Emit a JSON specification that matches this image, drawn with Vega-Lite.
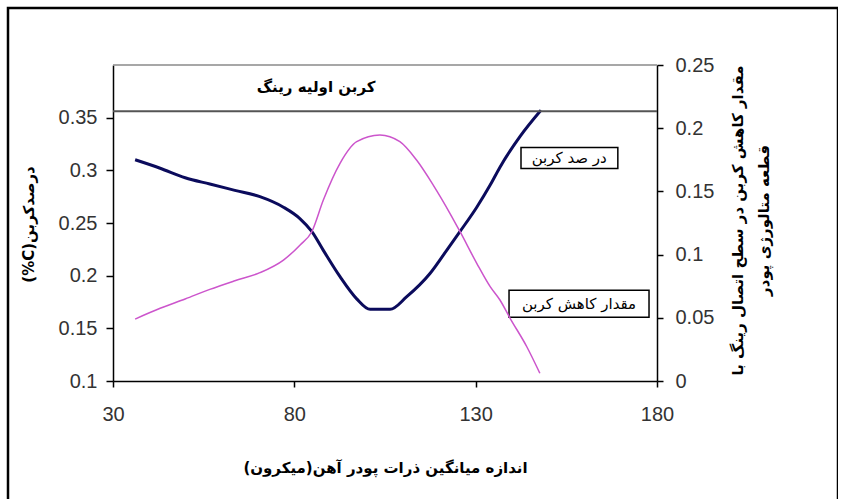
{
  "$schema": "https://vega.github.io/schema/vega-lite/v6.json",
  "width": 830,
  "height": 500,
  "autosize": {"type": "none"},
  "padding": {"left": 8, "top": 8, "right": 0, "bottom": 0},
  "background": "white",
  "config": {
    "view": {"stroke": "black", "strokeWidth": 2.5},
    "axis": {"grid": false, "labelFont": "Liberation Sans", "labelFontSize": 20, "labelColor": "#333333", "domainColor": "black", "domainWidth": 1.5, "tickColor": "black", "tickWidth": 1.5, "titleFont": "DejaVu Sans", "titleFontWeight": "bold", "titleFontSize": 15, "titleColor": "black", "labelOverlap": false, "labelFlush": false}
  },
  "datasets": {
    "carbon": [
      {"size": 36.1, "carbon_pct": 0.310},
      {"size": 43.0, "carbon_pct": 0.302},
      {"size": 49.9, "carbon_pct": 0.293},
      {"size": 56.7, "carbon_pct": 0.287},
      {"size": 63.6, "carbon_pct": 0.281},
      {"size": 70.5, "carbon_pct": 0.275},
      {"size": 77.0, "carbon_pct": 0.265},
      {"size": 81.6, "carbon_pct": 0.254},
      {"size": 84.8, "carbon_pct": 0.242},
      {"size": 88.0, "carbon_pct": 0.224},
      {"size": 92.6, "carbon_pct": 0.199},
      {"size": 97.2, "carbon_pct": 0.178},
      {"size": 100.9, "carbon_pct": 0.168},
      {"size": 106.4, "carbon_pct": 0.168},
      {"size": 111.0, "carbon_pct": 0.180},
      {"size": 117.4, "carbon_pct": 0.202},
      {"size": 122.0, "carbon_pct": 0.224},
      {"size": 125.7, "carbon_pct": 0.242},
      {"size": 130.3, "carbon_pct": 0.265},
      {"size": 134.0, "carbon_pct": 0.286},
      {"size": 136.7, "carbon_pct": 0.303},
      {"size": 142.2, "carbon_pct": 0.332},
      {"size": 148.0, "carbon_pct": 0.357}
    ],
    "reduction": [
      {"size": 36.1, "reduction": 0.049},
      {"size": 43.0, "reduction": 0.0575},
      {"size": 49.9, "reduction": 0.0649},
      {"size": 56.7, "reduction": 0.0725},
      {"size": 63.6, "reduction": 0.0793},
      {"size": 70.5, "reduction": 0.0857},
      {"size": 77.0, "reduction": 0.0957},
      {"size": 81.6, "reduction": 0.1076},
      {"size": 84.8, "reduction": 0.1181},
      {"size": 88.0, "reduction": 0.1432},
      {"size": 92.6, "reduction": 0.1722},
      {"size": 97.2, "reduction": 0.1893},
      {"size": 103.6, "reduction": 0.1946},
      {"size": 109.1, "reduction": 0.1893},
      {"size": 113.7, "reduction": 0.1748},
      {"size": 118.3, "reduction": 0.155},
      {"size": 122.9, "reduction": 0.1327},
      {"size": 125.7, "reduction": 0.1181},
      {"size": 130.3, "reduction": 0.0931},
      {"size": 134.0, "reduction": 0.0746},
      {"size": 136.7, "reduction": 0.0641},
      {"size": 139.5, "reduction": 0.0496},
      {"size": 144.1, "reduction": 0.0271},
      {"size": 147.7, "reduction": 0.0061}
    ],
    "initial": [{"label": "کربن اولیه رینگ", "carbon_pct": 0.356}],
    "plottop": [{"carbon_pct": 0.4}],
    "series1": [{"label": "در صد کربن"}],
    "series2": [{"label": "مقدار کاهش کربن"}]
  },
  "layer": [
    {
      "data": {"name": "carbon"},
      "mark": {"type": "line", "color": "#0b0b5c", "strokeWidth": 3, "interpolate": "monotone"},
      "encoding": {
        "x": {"field": "size", "type": "quantitative", "scale": {"domain": [30, 180], "range": [105, 649], "nice": false, "zero": false},
          "axis": {"orient": "bottom", "offset": -127, "values": [30, 80, 130, 180], "tickSize": 6, "labelPadding": 17,
            "title": "اندازه میانگین ذرات پودر آهن(میکرون)", "titleX": 377, "titleY": 86, "titleAlign": "center", "titleBaseline": "middle"}},
        "y": {"field": "carbon_pct", "type": "quantitative", "scale": {"domain": [0.1, 0.4], "range": [373, 57], "nice": false, "zero": false},
          "axis": {"orient": "left", "offset": -105, "values": [0.1, 0.15, 0.2, 0.25, 0.3, 0.35], "format": "~g", "tickSize": 7, "labelPadding": 9,
            "title": "(%C)درصدکربن", "titleAngle": -90, "titleX": -85, "titleY": 216, "titleAlign": "center", "titleBaseline": "middle"}}
      }
    },
    {
      "data": {"name": "plottop"},
      "mark": {"type": "rule", "color": "#8a8a8a", "strokeWidth": 1.5},
      "encoding": {
        "x": {"datum": 30, "type": "quantitative"},
        "x2": {"datum": 180},
        "y": {"field": "carbon_pct", "type": "quantitative", "scale": {"domain": [0.1, 0.4], "range": [373, 57], "nice": false, "zero": false}, "axis": null}
      }
    },
    {
      "data": {"name": "initial"},
      "mark": {"type": "rule", "color": "#555555", "strokeWidth": 2},
      "encoding": {
        "x": {"datum": 30, "type": "quantitative"},
        "x2": {"datum": 180},
        "y": {"field": "carbon_pct", "type": "quantitative", "scale": {"domain": [0.1, 0.4], "range": [373, 57], "nice": false, "zero": false}, "axis": null}
      }
    },
    {
      "data": {"name": "initial"},
      "mark": {"type": "text", "font": "DejaVu Sans", "fontWeight": "bold", "fontSize": 15, "color": "black", "dy": -24},
      "encoding": {
        "x": {"datum": 86, "type": "quantitative"},
        "y": {"field": "carbon_pct", "type": "quantitative", "scale": {"domain": [0.1, 0.4], "range": [373, 57], "nice": false, "zero": false}, "axis": null},
        "text": {"field": "label"}
      }
    },
    {
      "data": {"name": "series1"},
      "mark": {"type": "rect", "fill": "white", "stroke": "black", "strokeWidth": 1.5},
      "encoding": {
        "x": {"datum": 142.5, "type": "quantitative"},
        "x2": {"datum": 169.2},
        "y": {"datum": 0.3216, "type": "quantitative", "scale": {"domain": [0.1, 0.4], "range": [373, 57], "nice": false, "zero": false}, "axis": null},
        "y2": {"datum": 0.3017}
      }
    },
    {
      "data": {"name": "series1"},
      "mark": {"type": "text", "font": "DejaVu Sans", "fontSize": 15, "color": "black"},
      "encoding": {
        "x": {"datum": 155.8, "type": "quantitative"},
        "y": {"datum": 0.3116, "type": "quantitative", "scale": {"domain": [0.1, 0.4], "range": [373, 57], "nice": false, "zero": false}, "axis": null},
        "text": {"field": "label"}
      }
    },
    {
      "data": {"name": "series2"},
      "mark": {"type": "rect", "fill": "white", "stroke": "black", "strokeWidth": 1.5},
      "encoding": {
        "x": {"datum": 139.2, "type": "quantitative"},
        "x2": {"datum": 177.8},
        "y": {"datum": 0.1862, "type": "quantitative", "scale": {"domain": [0.1, 0.4], "range": [373, 57], "nice": false, "zero": false}, "axis": null},
        "y2": {"datum": 0.1606}
      }
    },
    {
      "data": {"name": "series2"},
      "mark": {"type": "text", "font": "DejaVu Sans", "fontSize": 15, "color": "black"},
      "encoding": {
        "x": {"datum": 158.5, "type": "quantitative"},
        "y": {"datum": 0.1734, "type": "quantitative", "scale": {"domain": [0.1, 0.4], "range": [373, 57], "nice": false, "zero": false}, "axis": null},
        "text": {"field": "label"}
      }
    },
    {
      "data": {"name": "reduction"},
      "mark": {"type": "line", "color": "#cc55cc", "strokeWidth": 1.5, "interpolate": "monotone"},
      "encoding": {
        "x": {"field": "size", "type": "quantitative"},
        "y": {"field": "reduction", "type": "quantitative", "scale": {"domain": [0, 0.25], "range": [373, 57], "nice": false, "zero": false},
          "axis": {"orient": "right", "offset": -181, "values": [0, 0.05, 0.1, 0.15, 0.2, 0.25], "format": "~g", "tickSize": 6, "labelPadding": 12,
            "title": ["مقدار کاهش کربن در سطح اتصال رینگ با", "قطعه متالورژی پودر"], "titleAngle": -90, "titleX": 80, "titleY": 212, "titleAlign": "center", "titleBaseline": "middle", "titleLineHeight": 26}}
      }
    }
  ],
  "resolve": {"scale": {"y": "independent"}}
}
